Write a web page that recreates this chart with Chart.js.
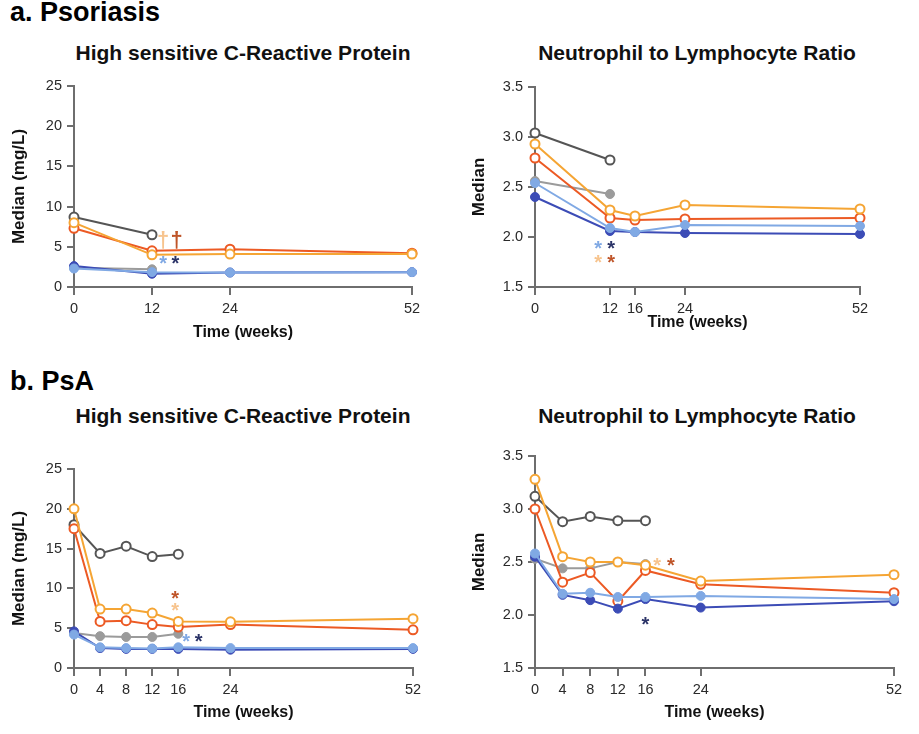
<!DOCTYPE html>
<html>
<head>
<meta charset="utf-8">
<script src="https://cdn.jsdelivr.net/npm/chart.js@4.4.0/dist/chart.umd.min.js"></script>
<style>
  body { margin:0; background:#fff; font-family:"Liberation Sans", Arial, sans-serif; }
  #page { position:relative; width:919px; height:734px; overflow:hidden; }
  .head { position:absolute; left:10px; font-size:27px; font-weight:bold; color:#000; line-height:30px; }
  .ptitle { position:absolute; width:440px; margin-left:-220px; text-align:center; font-size:21px; font-weight:bold; color:#111; line-height:24px; }
  canvas { position:absolute; }
</style>
</head>
<body>
<div id="page">
  <div class="head" style="top:-3px">a. Psoriasis</div>
  <div class="ptitle" style="left:243px; top:41px">High sensitive C-Reactive Protein</div>
  <div class="ptitle" style="left:697px; top:41px">Neutrophil to Lymphocyte Ratio</div>
  <canvas id="c1" width="460" height="280" style="left:0; top:70px"></canvas>
  <canvas id="c2" width="459" height="280" style="left:460px; top:70px"></canvas>

  <div class="head" style="top:366px">b. PsA</div>
  <div class="ptitle" style="left:243px; top:404px">High sensitive C-Reactive Protein</div>
  <div class="ptitle" style="left:697px; top:404px">Neutrophil to Lymphocyte Ratio</div>
  <canvas id="c3" width="460" height="294" style="left:0; top:440px"></canvas>
  <canvas id="c4" width="459" height="294" style="left:460px; top:440px"></canvas>
</div>
<script>
// a. Psoriasis - hsCRP
const psoCrpWeeks = [0, 12, 24, 52];
const psoCrpDarkGrey = [8.7, 6.5];
const psoCrpGrey = [2.4, 2.2];
const psoCrpOrange = [8.0, 4.0, 4.1, 4.1];
const psoCrpRed = [7.3, 4.5, 4.7, 4.2];
const psoCrpLightBlue = [2.3, 1.85, 1.8, 1.85];
const psoCrpDarkBlue = [2.6, 1.65, 1.8, 1.85];
const psoCrpNotes = [[13.7, 5.85, "†", "peach"], [15.8, 5.85, "†", "brown"], [13.7, 3.6, "*", "lightBlue"], [15.6, 3.6, "*", "navy"]];

// a. Psoriasis - NLR
const psoNlrWeeks = [0, 12, 16, 24, 52];
const psoNlrDarkGrey = [3.04, 2.77];
const psoNlrGrey = [2.56, 2.43];
const psoNlrOrange = [2.93, 2.27, 2.21, 2.32, 2.28];
const psoNlrRed = [2.79, 2.19, 2.17, 2.18, 2.19];
const psoNlrLightBlue = [2.54, 2.09, 2.05, 2.12, 2.11];
const psoNlrDarkBlue = [2.40, 2.06, 2.05, 2.04, 2.03];
const psoNlrNotes = [[10.1, 1.94, "*", "lightBlue"], [12.2, 1.94, "*", "navy"], [10.1, 1.80, "*", "peach"], [12.2, 1.80, "*", "brown"]];

// b. PsA - hsCRP
const psaCrpWeeks = [0, 4, 8, 12, 16, 24, 52];
const psaCrpDarkGrey = [18.0, 14.4, 15.3, 14.0, 14.3];
const psaCrpGrey = [4.4, 4.0, 3.9, 3.9, 4.3];
const psaCrpOrange = [20.0, 7.4, 7.4, 6.9, 5.85, 5.8, 6.2];
const psaCrpRed = [17.5, 5.85, 5.95, 5.45, 5.15, 5.45, 4.8];
const psaCrpLightBlue = [4.2, 2.6, 2.5, 2.45, 2.6, 2.5, 2.5];
const psaCrpDarkBlue = [4.6, 2.5, 2.4, 2.4, 2.4, 2.3, 2.4];
const psaCrpNotes = [[15.5, 9.4, "*", "brown"], [15.5, 7.8, "*", "peach"], [17.2, 4.0, "*", "lightBlue"], [19.1, 4.0, "*", "navy"]];

// b. PsA - NLR
const psaNlrWeeks = [0, 4, 8, 12, 16, 24, 52];
const psaNlrDarkGrey = [3.12, 2.88, 2.93, 2.89, 2.89];
const psaNlrGrey = [2.53, 2.44, 2.44, 2.50, 2.48];
const psaNlrOrange = [3.28, 2.55, 2.50, 2.50, 2.47, 2.32, 2.38];
const psaNlrRed = [3.00, 2.31, 2.40, 2.13, 2.42, 2.29, 2.21];
const psaNlrLightBlue = [2.58, 2.20, 2.21, 2.17, 2.17, 2.18, 2.15];
const psaNlrDarkBlue = [2.55, 2.19, 2.14, 2.06, 2.15, 2.07, 2.13];
const psaNlrNotes = [[17.7, 2.51, "*", "peach"], [19.7, 2.51, "*", "brown"], [16.0, 1.96, "*", "navy"]];

const colors = {
  darkGrey: "#555555", grey: "#9b9b9b", orange: "#f5a534", red: "#ec5a24",
  lightBlue: "#80a9e4", darkBlue: "#3c4cb6",
  peach: "#f7c48e", brown: "#bf5529", navy: "#2c3468"
};
const axisColor = "#6e6e6e";
const fontFam = "'Liberation Sans', Arial, sans-serif";
Chart.defaults.font.family = fontFam;

function pts(weeks, vals){ return vals.map((v, i) => ({ x: weeks[i], y: v })); }

function line(key, weeks, vals, open){
  const c = colors[key];
  return {
    data: pts(weeks, vals),
    borderColor: c, borderWidth: 2,
    pointBackgroundColor: open ? "#fff" : c,
    pointBorderColor: c, pointBorderWidth: open ? 2 : 1,
    pointRadius: 4.5, pointHoverRadius: 4.5,
    clip: false, tension: 0
  };
}

// text marks (asterisks, daggers) placed in data units
const notesPlugin = {
  id: "notes",
  afterDatasetsDraw(chart, args, opts){
    const ctx = chart.ctx, xs = chart.scales.x, ys = chart.scales.y;
    ctx.save();
    ctx.textAlign = "center";
    ctx.textBaseline = "alphabetic";
    (opts.items || []).forEach(([x, y, sym, key]) => {
      ctx.fillStyle = colors[key];
      if (sym === "*") { ctx.font = "bold 20px " + fontFam; ctx.fillText(sym, xs.getPixelForValue(x), ys.getPixelForValue(y) + 11.5); }
      else { ctx.font = "bold 22px " + fontFam; ctx.fillText(sym, xs.getPixelForValue(x), ys.getPixelForValue(y) + 7); }
    });
    ctx.restore();
  }
};

function makeChart(id, weeks, s, notes, ax){
  const datasets = [
    line("lightBlue", weeks, s[4], false),
    line("darkBlue", weeks, s[5], false),
    line("orange", weeks, s[2], true),
    line("red", weeks, s[3], true),
    line("grey", weeks, s[1], false),
    line("darkGrey", weeks, s[0], true)
  ];
  return new Chart(document.getElementById(id), {
    type: "line",
    data: { datasets },
    plugins: [notesPlugin],
    options: {
      responsive: false, animation: false,
      layout: { padding: { top: ax.top, right: ax.right, left: 0, bottom: 0 } },
      plugins: { legend: { display: false }, tooltip: { enabled: false }, notes: { items: notes } },
      scales: {
        x: {
          type: "linear", min: 0, max: 52,
          afterBuildTicks: sc => { sc.ticks = weeks.map(v => ({ value: v })); },
          ticks: { color: "#2a2a2a", font: { size: 14.5 }, padding: 5, autoSkip: false, maxRotation: 0 },
          grid: { drawOnChartArea: false, drawTicks: true, tickLength: 8, color: axisColor, lineWidth: 2 },
          border: { display: true, color: axisColor, width: 2 },
          title: { display: true, text: "Time (weeks)", color: "#111", font: { size: 16, weight: "bold" }, padding: { top: 0, bottom: ax.xTitlePad } },
          afterFit: sc => { sc.height = ax.xh; }
        },
        y: {
          min: ax.ymin, max: ax.ymax,
          ticks: { stepSize: ax.step, color: "#2a2a2a", font: { size: 14.5 }, padding: 5,
                   callback: v => ax.dec ? v.toFixed(1) : v },
          grid: { drawOnChartArea: false, drawTicks: true, tickLength: 7, color: axisColor, lineWidth: 2 },
          border: { display: true, color: axisColor, width: 2 },
          title: { display: true, text: ax.ytitle, color: "#111", font: { size: 17, weight: "bold" }, padding: { top: 9, bottom: 0 } },
          afterFit: sc => { sc.width = ax.yw; }
        }
      }
    }
  });
}

makeChart("c1", psoCrpWeeks,
  [psoCrpDarkGrey, psoCrpGrey, psoCrpOrange, psoCrpRed, psoCrpLightBlue, psoCrpDarkBlue], psoCrpNotes,
  { ymin: 0, ymax: 25, step: 5, dec: false, ytitle: "Median (mg/L)", yw: 74, top: 16, right: 48, xh: 63, xTitlePad: 7.4 });

makeChart("c2", psoNlrWeeks,
  [psoNlrDarkGrey, psoNlrGrey, psoNlrOrange, psoNlrRed, psoNlrLightBlue, psoNlrDarkBlue], psoNlrNotes,
  { ymin: 1.5, ymax: 3.5, step: 0.5, dec: true, ytitle: "Median", yw: 75, top: 17, right: 59, xh: 63, xTitlePad: 17.4 });

makeChart("c3", psaCrpWeeks,
  [psaCrpDarkGrey, psaCrpGrey, psaCrpOrange, psaCrpRed, psaCrpLightBlue, psaCrpDarkBlue], psaCrpNotes,
  { ymin: 0, ymax: 25, step: 5, dec: false, ytitle: "Median (mg/L)", yw: 74, top: 29, right: 47, xh: 66, xTitlePad: 11.4 });

makeChart("c4", psaNlrWeeks,
  [psaNlrDarkGrey, psaNlrGrey, psaNlrOrange, psaNlrRed, psaNlrLightBlue, psaNlrDarkBlue], psaNlrNotes,
  { ymin: 1.5, ymax: 3.5, step: 0.5, dec: true, ytitle: "Median", yw: 75, top: 16, right: 25, xh: 66, xTitlePad: 11.4 });
</script>
</body>
</html>
